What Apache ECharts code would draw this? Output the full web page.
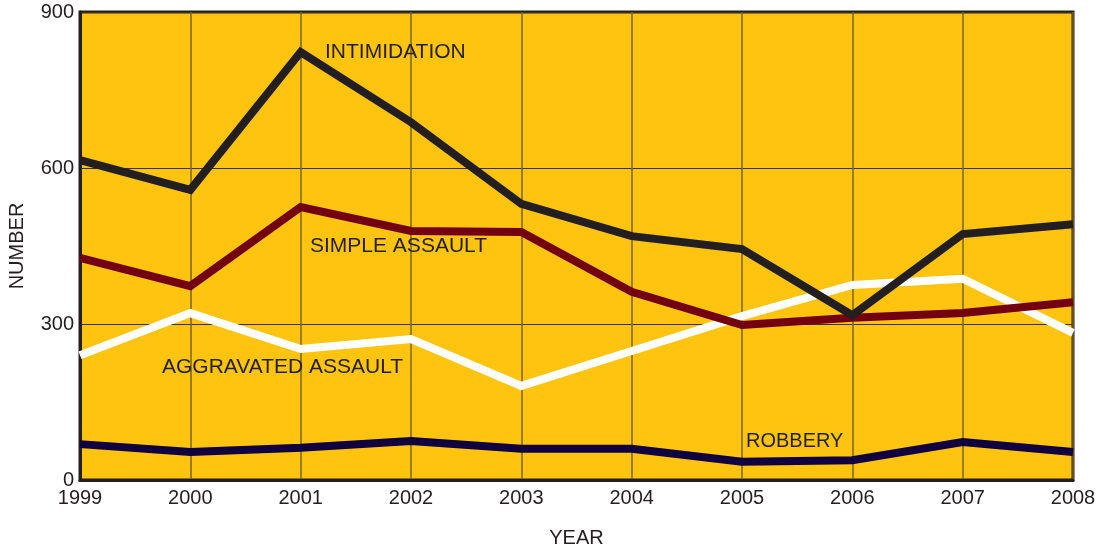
<!DOCTYPE html>
<html>
<head>
<meta charset="utf-8">
<script src="https://cdn.jsdelivr.net/npm/echarts@6/dist/echarts.min.js"></script>
<style>
  html, body { margin: 0; padding: 0; background: #fff; }
  #chart { width: 1097px; height: 550px; }
</style>
</head>
<body>
<div id="chart"></div>
<script>
const years = ['1999', '2000', '2001', '2002', '2003', '2004', '2005', '2006', '2007', '2008'];
const intimidation = [615, 558, 823, 688, 531, 469, 444, 317, 473, 492];
const simpleAssault = [427, 373, 525, 479, 477, 362, 298, 312, 321, 342];
const aggravatedAssault = [240, 321, 252, 271, 181, 248, 315, 375, 387, 283];
const robbery = [69, 54, 62, 75, 60, 60, 35, 38, 73, 54];
const yTicks = [0, 300, 600, 900];

const font = '"Liberation Sans", Arial, sans-serif';
const ink = '#231f20';

let chart = echarts.init(document.getElementById('chart'));

function series(name, data, color) {
    return {
        name: name,
        type: 'line',
        data: data,
        symbol: 'none',
        lineStyle: { color: color, width: 8, join: 'miter' },
        z: 3
    };
}

let option = {
    animation: false,
    textStyle: { fontFamily: font },
    grid: {
        left: 80, right: 24, top: 12, bottom: 70,
        outerBoundsMode: 'none',
        containLabel: false,
        show: true,
        backgroundColor: '#fec40f',
        borderColor: ink,
        borderWidth: 3
    },
    xAxis: {
        type: 'category',
        boundaryGap: false,
        data: years,
        name: 'YEAR',
        nameLocation: 'middle',
        nameGap: 48,
        nameTextStyle: { color: ink, fontSize: 20, fontFamily: font },
        axisLine: { lineStyle: { color: ink, width: 3 } },
        axisTick: { show: false },
        axisLabel: { color: ink, fontSize: 20, margin: 8, fontFamily: font },
        splitLine: { show: true, lineStyle: { color: '#7a6420', width: 1.5 } }
    },
    yAxis: {
        type: 'value',
        min: 0,
        max: 900,
        interval: 300,
        name: 'NUMBER',
        nameLocation: 'middle',
        nameGap: 53,
        nameTextStyle: { color: ink, fontSize: 20, fontFamily: font },
        axisLine: { show: true, lineStyle: { color: ink, width: 3 } },
        axisTick: { show: false },
        axisLabel: {
            color: ink, fontSize: 20, margin: 6, fontFamily: font,
            formatter: v => yTicks.includes(v) ? String(v) : ''
        },
        splitLine: { show: true, lineStyle: { color: '#3a3320', width: 1.2 } }
    },
    series: [
        series('ROBBERY', robbery, '#10003f'),
        series('AGGRAVATED ASSAULT', aggravatedAssault, '#ffffff'),
        series('SIMPLE ASSAULT', simpleAssault, '#720010'),
        series('INTIMIDATION', intimidation, ink)
    ],
    graphic: [
        { type: 'text', left: 325, top: 42, z: 10, style: { text: 'INTIMIDATION', fill: ink, font: '21px ' + font } },
        { type: 'text', left: 310, top: 236, z: 10, style: { text: 'SIMPLE ASSAULT', fill: ink, font: '21px ' + font } },
        { type: 'text', left: 162, top: 357, z: 10, style: { text: 'AGGRAVATED ASSAULT', fill: ink, font: '21px ' + font } },
        { type: 'text', left: 746, top: 431, z: 10, style: { text: 'ROBBERY', fill: ink, font: '20px ' + font } }
    ]
};

option && chart.setOption(option);
</script>
</body>
</html>
